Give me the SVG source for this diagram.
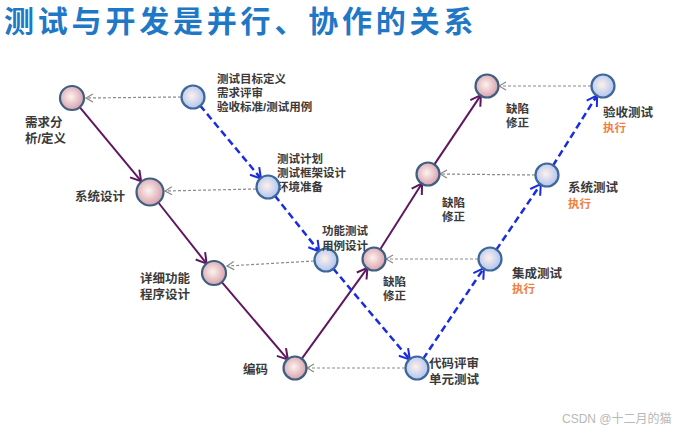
<svg xmlns="http://www.w3.org/2000/svg" width="678" height="433" viewBox="0 0 678 433">
<defs>
<radialGradient id="gp" cx="0.45" cy="0.45" r="0.6">
<stop offset="0" stop-color="#fdf3ee"/>
<stop offset="1" stop-color="#d49aa8"/>
</radialGradient>
<radialGradient id="gb" cx="0.45" cy="0.45" r="0.6">
<stop offset="0" stop-color="#fdf1ea"/>
<stop offset="1" stop-color="#a9c0f2"/>
</radialGradient>
<marker id="ap" markerUnits="userSpaceOnUse" markerWidth="14" markerHeight="14" viewBox="0 0 14 14" refX="12" refY="7" orient="auto">
<path d="M2,1 L12,7 L2,13" fill="none" stroke="#5e1860" stroke-width="2"/>
</marker>
<marker id="ab" markerUnits="userSpaceOnUse" markerWidth="14" markerHeight="14" viewBox="0 0 14 14" refX="12" refY="7" orient="auto">
<path d="M2,1 L12,7 L2,13" fill="none" stroke="#1a2ce0" stroke-width="2"/>
</marker>
<marker id="ag" markerUnits="userSpaceOnUse" markerWidth="10" markerHeight="10" viewBox="0 0 10 10" refX="9" refY="5" orient="auto">
<path d="M2,1 L9,5 L2,9" fill="none" stroke="#888" stroke-width="1.2"/>
</marker>
</defs>
<style>
.t{font-family:"Liberation Sans","Noto Sans CJK SC",sans-serif;font-weight:bold;fill:#3a3a3a;font-size:12.5px}
.s{font-size:11.5px}
.o{fill:#f08040}
.np{fill:url(#gp);stroke:#3e5f80;stroke-width:2.2}
.nb{fill:url(#gb);stroke:#3d6898;stroke-width:2.2}
.dev{stroke:#5e1860;stroke-width:2;fill:none;marker-end:url(#ap)}
.tst{stroke:#1a2ce0;stroke-width:2.5;stroke-dasharray:7,4;fill:none;marker-end:url(#ab)}
.ref{stroke:#8a8a8a;stroke-width:1.2;stroke-dasharray:3,2;fill:none;marker-end:url(#ag)}
</style>
<rect width="678" height="433" fill="#fff"/>
<text x="4" y="32" font-family="'Liberation Sans','Noto Sans CJK SC',sans-serif" font-weight="bold" font-size="30" letter-spacing="3.8" fill="#1f78c6">测试与开发是并行、协作的关系</text>

<g id="labels-under">
<text class="t s" x="277" y="163">测试计划</text>
<text class="t s" x="277" y="177">测试框架设计</text>
<text class="t s" x="277" y="191">环境准备</text>
</g>

<g id="connectors">
<line class="dev" x1="79.7" y1="107.2" x2="141.1" y2="181.2"/>
<line class="dev" x1="158.7" y1="203" x2="206.6" y2="263.6"/>
<line class="dev" x1="221.8" y1="282.1" x2="287.9" y2="359.6"/>
<line class="dev" x1="301.5" y1="359.1" x2="367.5" y2="267.9"/>
<line class="dev" x1="379.9" y1="249.7" x2="422.1" y2="183.3"/>
<line class="dev" x1="434.1" y1="164.9" x2="480.9" y2="95.1"/>
<line class="tst" x1="200" y1="105.4" x2="261" y2="178.6"/>
<line class="tst" x1="274.8" y1="195.6" x2="319.2" y2="251.4"/>
<line class="tst" x1="333.1" y1="268.4" x2="409.9" y2="359.6"/>
<line class="tst" x1="423.1" y1="358.9" x2="483.9" y2="268.1"/>
<line class="tst" x1="496.2" y1="249.9" x2="540.8" y2="184.1"/>
<line class="tst" x1="552.9" y1="165.7" x2="597.1" y2="95.3"/>
<line class="ref" x1="181" y1="97" x2="86" y2="98"/>
<line class="ref" x1="256" y1="189" x2="165" y2="191"/>
<line class="ref" x1="314" y1="261" x2="227" y2="266"/>
<line class="ref" x1="405" y1="368" x2="307" y2="368"/>
<line class="ref" x1="478" y1="259" x2="386" y2="259"/>
<line class="ref" x1="535" y1="175" x2="440" y2="174"/>
<line class="ref" x1="591" y1="86" x2="499" y2="86"/>
</g>

<g id="n-req"><circle class="np" cx="72" cy="98" r="12"/><text class="t" x="25" y="127">需求分</text><text class="t" x="25" y="143">析/定义</text></g>
<g id="n-sys"><circle class="np" cx="150" cy="192" r="13.5"/><text class="t" x="75" y="201">系统设计</text></g>
<g id="n-detail"><circle class="np" cx="214" cy="273" r="12"/><text class="t" x="140" y="283">详细功能</text><text class="t" x="140" y="299">程序设计</text></g>
<g id="n-code"><circle class="np" cx="295" cy="368" r="11.5"/><text class="t" x="243" y="374">编码</text></g>
<g id="n-fix1"><circle class="np" cx="374" cy="259" r="11.5"/><text class="t s" x="383" y="286">缺陷</text><text class="t s" x="383" y="300">修正</text></g>
<g id="n-fix2"><circle class="np" cx="428" cy="174" r="11.5"/><text class="t s" x="442" y="207">缺陷</text><text class="t s" x="442" y="221">修正</text></g>
<g id="n-fix3"><circle class="np" cx="487" cy="86" r="11.5"/><text class="t s" x="506" y="113">缺陷</text><text class="t s" x="506" y="127">修正</text></g>

<g id="n-goal"><circle class="nb" cx="193" cy="97" r="11.5"/><text class="t s" x="217" y="83">测试目标定义</text><text class="t s" x="217" y="97">需求评审</text><text class="t s" x="217" y="111">验收标准/测试用例</text></g>
<g id="n-plan"><circle class="nb" cx="268" cy="187" r="11.5"/></g>
<g id="n-case"><circle class="nb" cx="326" cy="260" r="11.5"/><text class="t s" x="322" y="235">功能测试</text><text class="t s" x="322" y="250">用例设计</text></g>
<g id="n-unit"><circle class="nb" cx="417" cy="368" r="11.5"/><text class="t" x="429" y="368">代码评审</text><text class="t" x="429" y="384">单元测试</text></g>
<g id="n-int"><circle class="nb" cx="490" cy="259" r="11.5"/><text class="t" x="512" y="278">集成测试</text><text class="t s o" x="512" y="293">执行</text></g>
<g id="n-systest"><circle class="nb" cx="547" cy="175" r="11.5"/><text class="t" x="568" y="192">系统测试</text><text class="t s o" x="568" y="208">执行</text></g>
<g id="n-acc"><circle class="nb" cx="603" cy="86" r="11.5"/><text class="t" x="603" y="117">验收测试</text><text class="t s o" x="603" y="132">执行</text></g>

<text x="562" y="423" font-family="'Liberation Sans','Noto Sans CJK SC',sans-serif" font-size="12" fill="#b8b8b8">CSDN @十二月的猫</text>
</svg>
